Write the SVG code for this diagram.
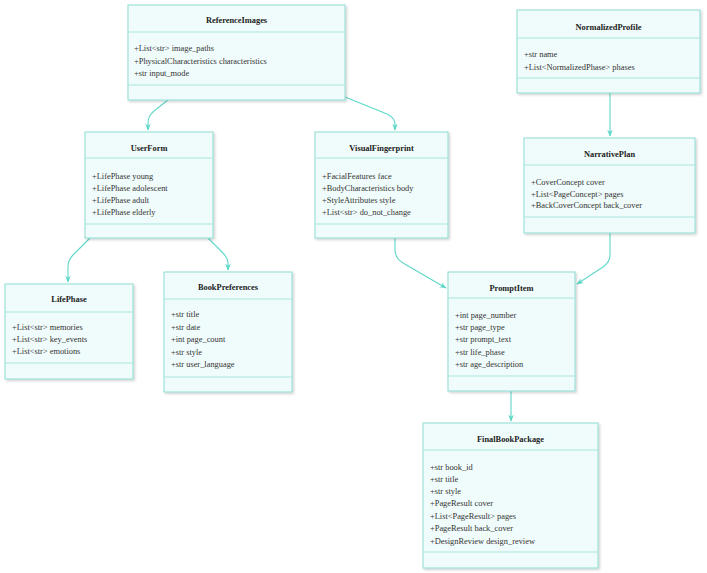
<svg xmlns="http://www.w3.org/2000/svg" width="707" height="573" viewBox="0 0 707 573">
<style>
.box{fill:#f0fcfb;stroke:#8ddcd2;stroke-width:1;filter:url(#sh)}
.sep{stroke:#a8e6de;stroke-width:1}
.t{font-family:"Liberation Serif","Times New Roman",serif;font-size:8.4px;font-weight:bold;fill:#222;text-anchor:middle}
.a{font-family:"Liberation Serif","Times New Roman",serif;font-size:8.4px;fill:#333}
.c{fill:none;stroke:#5fd8c8;stroke-width:1.1;marker-end:url(#ar)}
</style>
<defs>
<filter id="sh" x="-10%" y="-10%" width="120%" height="130%">
<feDropShadow dx="1.5" dy="1.5" stdDeviation="1" flood-color="#000" flood-opacity="0.18"/>
</filter>
<marker id="ar" viewBox="0 0 10 10" refX="9" refY="5" markerWidth="7" markerHeight="7" orient="auto" markerUnits="userSpaceOnUse">
<path d="M0,1 L10,5 L0,9 L3,5 Z" fill="#5fd8c8"/>
</marker>
</defs>
<rect width="707" height="573" fill="#fff"/>
<g id="connectors">
<path class="c" d="M168,100 L154,111 Q148,116 148,123 L148,130"/>
<path class="c" d="M345,97 L387,114 Q395,118 395,124 L395,130"/>
<path class="c" d="M90,238 L73,255 Q68,260 68,267 L68,282"/>
<path class="c" d="M208,238 L222,252 Q228,258 228,263 L228,270"/>
<path class="c" d="M395,238 L395,250 Q395,258 403,263 L446,288"/>
<path class="c" d="M610,233 L610,255 Q610,262 603,267 L577,284"/>
<path class="c" d="M610,93 L610,136"/>
<path class="c" d="M511,391 L511,421"/>
</g>
<g id="ReferenceImages">
<rect class="box" x="128" y="5" width="217" height="95"/>
<line class="sep" x1="128" y1="32" x2="345" y2="32"/>
<line class="sep" x1="128" y1="85" x2="345" y2="85"/>
<text class="t" x="236.5" y="23">ReferenceImages</text>
<text class="a" x="134" y="51">+List&lt;str&gt; image_paths</text>
<text class="a" x="134" y="63.5">+PhysicalCharacteristics characteristics</text>
<text class="a" x="134" y="76">+str input_mode</text>
</g>
<g id="NormalizedProfile">
<rect class="box" x="517" y="10" width="183" height="83"/>
<line class="sep" x1="517" y1="38" x2="700" y2="38"/>
<line class="sep" x1="517" y1="78" x2="700" y2="78"/>
<text class="t" x="608.5" y="30">NormalizedProfile</text>
<text class="a" x="524" y="57">+str name</text>
<text class="a" x="524" y="70">+List&lt;NormalizedPhase&gt; phases</text>
</g>
<g id="UserForm">
<rect class="box" x="85" y="132" width="128" height="106"/>
<line class="sep" x1="85" y1="158" x2="213" y2="158"/>
<line class="sep" x1="85" y1="224" x2="213" y2="224"/>
<text class="t" x="149" y="151">UserForm</text>
<text class="a" x="92" y="179">+LifePhase young</text>
<text class="a" x="92" y="191">+LifePhase adolescent</text>
<text class="a" x="92" y="203">+LifePhase adult</text>
<text class="a" x="92" y="215">+LifePhase elderly</text>
</g>
<g id="VisualFingerprint">
<rect class="box" x="315" y="132" width="133" height="106"/>
<line class="sep" x1="315" y1="158" x2="448" y2="158"/>
<line class="sep" x1="315" y1="224" x2="448" y2="224"/>
<text class="t" x="381.5" y="151">VisualFingerprint</text>
<text class="a" x="322" y="179">+FacialFeatures face</text>
<text class="a" x="322" y="191">+BodyCharacteristics body</text>
<text class="a" x="322" y="203">+StyleAttributes style</text>
<text class="a" x="322" y="215">+List&lt;str&gt; do_not_change</text>
</g>
<g id="NarrativePlan">
<rect class="box" x="524" y="138" width="171" height="95"/>
<line class="sep" x1="524" y1="165" x2="695" y2="165"/>
<line class="sep" x1="524" y1="217" x2="695" y2="217"/>
<text class="t" x="609.5" y="157">NarrativePlan</text>
<text class="a" x="531" y="185">+CoverConcept cover</text>
<text class="a" x="531" y="196.5">+List&lt;PageConcept&gt; pages</text>
<text class="a" x="531" y="208">+BackCoverConcept back_cover</text>
</g>
<g id="LifePhase">
<rect class="box" x="5" y="284" width="128" height="95"/>
<line class="sep" x1="5" y1="312" x2="133" y2="312"/>
<line class="sep" x1="5" y1="363" x2="133" y2="363"/>
<text class="t" x="69" y="302">LifePhase</text>
<text class="a" x="12" y="330">+List&lt;str&gt; memories</text>
<text class="a" x="12" y="342">+List&lt;str&gt; key_events</text>
<text class="a" x="12" y="354">+List&lt;str&gt; emotions</text>
</g>
<g id="BookPreferences">
<rect class="box" x="164" y="272" width="128" height="120"/>
<line class="sep" x1="164" y1="299" x2="292" y2="299"/>
<line class="sep" x1="164" y1="377" x2="292" y2="377"/>
<text class="t" x="228" y="290">BookPreferences</text>
<text class="a" x="171" y="317">+str title</text>
<text class="a" x="171" y="330">+str date</text>
<text class="a" x="171" y="342">+int page_count</text>
<text class="a" x="171" y="355">+str style</text>
<text class="a" x="171" y="367">+str user_language</text>
</g>
<g id="PromptItem">
<rect class="box" x="448" y="272" width="127" height="119"/>
<line class="sep" x1="448" y1="298" x2="575" y2="298"/>
<line class="sep" x1="448" y1="376" x2="575" y2="376"/>
<text class="t" x="511.5" y="291">PromptItem</text>
<text class="a" x="455" y="318">+int page_number</text>
<text class="a" x="455" y="330">+str page_type</text>
<text class="a" x="455" y="342">+str prompt_text</text>
<text class="a" x="455" y="355">+str life_phase</text>
<text class="a" x="455" y="367">+str age_description</text>
</g>
<g id="FinalBookPackage">
<rect class="box" x="423" y="423" width="175" height="145"/>
<line class="sep" x1="423" y1="450" x2="598" y2="450"/>
<line class="sep" x1="423" y1="552" x2="598" y2="552"/>
<text class="t" x="510.5" y="442">FinalBookPackage</text>
<text class="a" x="430" y="470">+str book_id</text>
<text class="a" x="430" y="481.5">+str title</text>
<text class="a" x="430" y="494">+str style</text>
<text class="a" x="430" y="506">+PageResult cover</text>
<text class="a" x="430" y="519">+List&lt;PageResult&gt; pages</text>
<text class="a" x="430" y="531">+PageResult back_cover</text>
<text class="a" x="430" y="544">+DesignReview design_review</text>
</g>
</svg>
